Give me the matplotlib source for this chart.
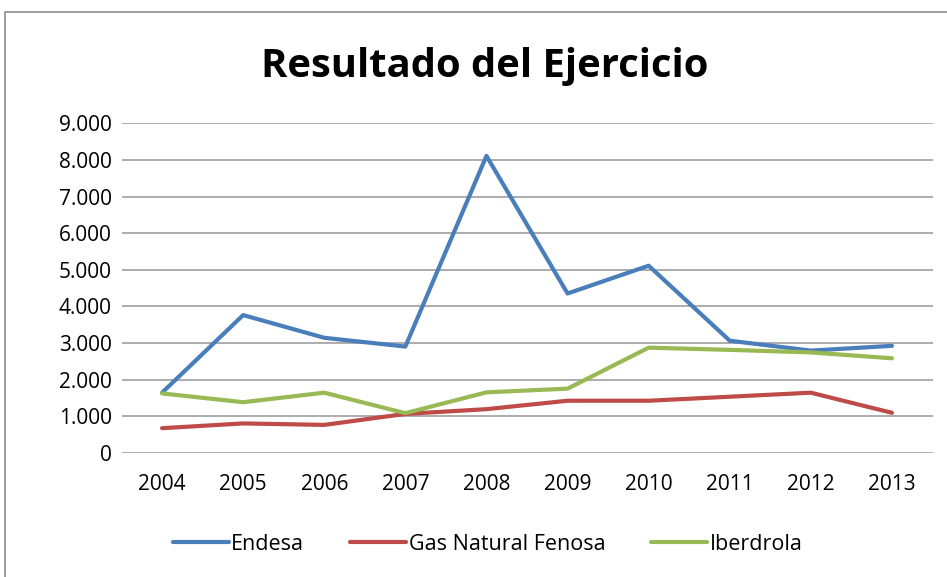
import matplotlib
matplotlib.use("Agg")
import matplotlib.pyplot as plt
from matplotlib.patches import Rectangle
from matplotlib.ticker import FuncFormatter

years = ["2004", "2005", "2006", "2007", "2008", "2009", "2010", "2011", "2012", "2013"]
endesa = [1640, 3760, 3140, 2900, 8110, 4350, 5110, 3060, 2790, 2920]
gas_natural = [670, 800, 760, 1060, 1190, 1420, 1420, 1530, 1640, 1090]
iberdrola = [1620, 1380, 1640, 1080, 1650, 1750, 2870, 2810, 2740, 2580]
series_names = ["Endesa", "Gas Natural Fenosa", "Iberdrola"]
colors = ["#4A7EBB", "#BE4B48", "#98B954"]
yticks = [0, 1000, 2000, 3000, 4000, 5000, 6000, 7000, 8000, 9000]

plt.rcParams['font.family'] = ['Open Sans', 'DejaVu Sans']

fig = plt.figure(figsize=(9.47, 5.77), dpi=100)
fig.patch.set_facecolor("white")
ax = fig.add_axes([0.1283, 0.2154, 0.8564, 0.5709])

x = list(range(len(years)))
for name, vals, c in zip(series_names, [endesa, gas_natural, iberdrola], colors):
    ax.plot(x, vals, color=c, linewidth=3.0, label=name, solid_capstyle="round", solid_joinstyle="round")

ax.set_xlim(-0.5, len(years) - 0.5)
ax.set_ylim(0, 9000)
ax.set_yticks(yticks)
ax.yaxis.set_major_formatter(FuncFormatter(lambda v, p: "0" if v == 0 else f"{int(v):,}".replace(",", ".")))
ax.set_xticks(x)
ax.set_xticklabels(years)
ax.grid(axis="y", color="#A6A6A6", linewidth=1.3)
ax.set_axisbelow(True)
for s in ax.spines.values():
    s.set_visible(False)
ax.tick_params(axis="both", length=0, labelsize=15, colors="#000000")
ax.tick_params(axis="y", pad=7)
ax.tick_params(axis="x", pad=15)

fig.text(0.512, 0.884, "Resultado del Ejercicio", ha="center", va="center",
         fontsize=28.8, fontweight="bold")

fig.legend(loc="center", bbox_to_anchor=(0.515, 1 - 544 / 577), ncol=3, frameon=False,
           fontsize=15.5, handlelength=2.6, handletextpad=0.1, columnspacing=2.15)

fig.add_artist(Rectangle((5 / 947, -0.01), 1.0, 1 - 12 / 577 + 0.01, transform=fig.transFigure,
                         fill=False, edgecolor="#8C8C8C", linewidth=1.2))

fig.savefig("out.png", dpi=100)
